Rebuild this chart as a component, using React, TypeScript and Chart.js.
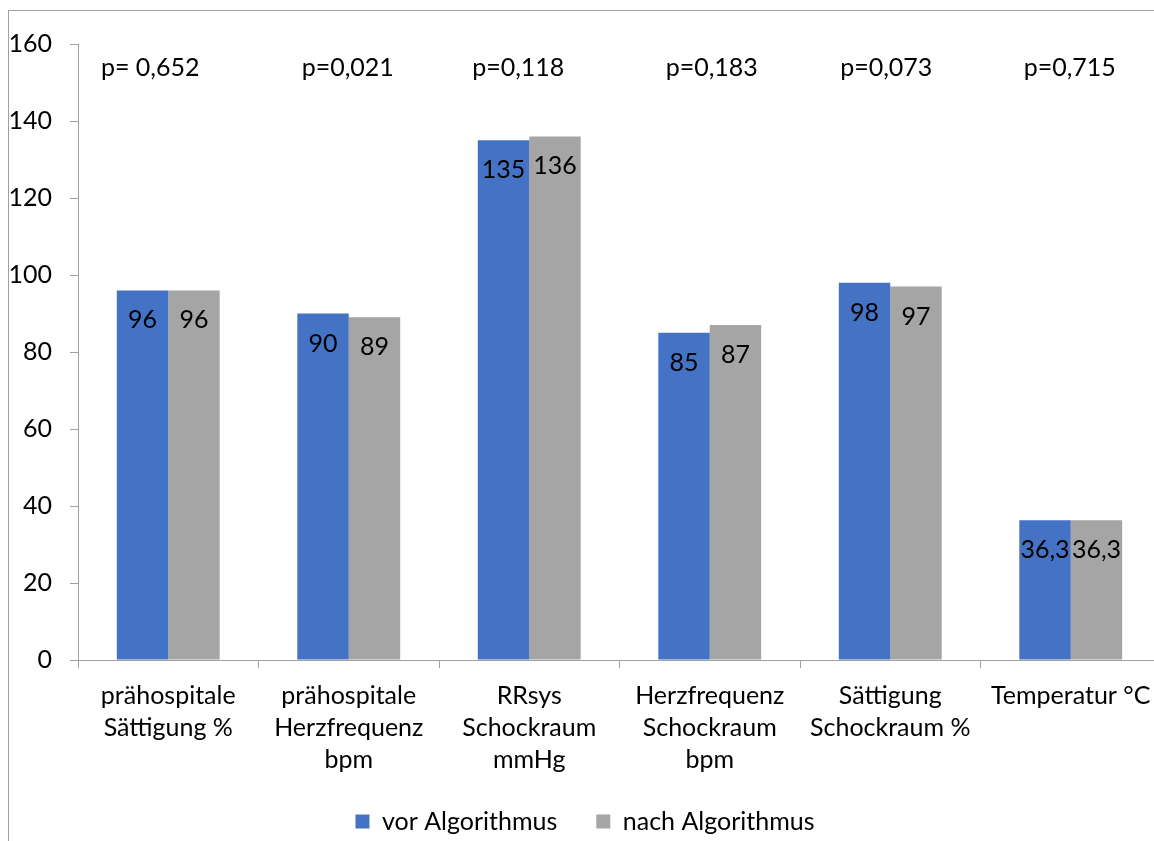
import React, { useEffect, useRef } from "react";
import { Chart, registerables } from "chart.js";

Chart.register(...registerables);

const categories: string[][] = [
  ["prähospitale", "Sättigung %"],
  ["prähospitale", "Herzfrequenz", "bpm"],
  ["RRsys", "Schockraum", "mmHg"],
  ["Herzfrequenz", "Schockraum", "bpm"],
  ["Sättigung", "Schockraum %"],
  ["Temperatur °C"],
];
const vorValues = [96, 90, 135, 85, 98, 36.3];
const nachValues = [96, 89, 136, 87, 97, 36.3];
const pValues = ["p= 0,652", "p=0,021", "p=0,118", "p=0,183", "p=0,073", "p=0,715"];
const seriesNames = ["vor Algorithmus", "nach Algorithmus"];
const yMin = 0;
const yMax = 160;
const yStep = 20;

const FONT = "Lato, 'DejaVu Sans', sans-serif";
const AXIS = "#a0a0a0";

const labelPlugin = {
  id: "valueLabels",
  afterLayout(chart: any) {
    const lg = chart.legend;
    if (lg) {
      lg.top -= 18;
      lg.bottom -= 18;
    }
  },
  afterDatasetsDraw(chart: any) {
    const ctx = chart.ctx;
    ctx.save();
    ctx.font = `25px ${FONT}`;
    ctx.fillStyle = "#000";
    ctx.textAlign = "center";
    ctx.textBaseline = "middle";
    chart.data.datasets.forEach((ds: any, di: number) => {
      const meta = chart.getDatasetMeta(di);
      meta.data.forEach((bar: any, i: number) => {
        const v = ds.data[i];
        ctx.fillText(String(v).replace(".", ","), bar.x, bar.y + 30);
      });
    });
    const xs = chart.scales.x;
    const shifts = [-18, -1, -11, 2, -4, -1];
    pValues.forEach((p, i) => {
      ctx.fillText(p, xs.getPixelForValue(i) + shifts[i], chart.chartArea.top + 24);
    });
    ctx.restore();
  },
};

export default function App() {
  const ref = useRef<HTMLCanvasElement | null>(null);
  useEffect(() => {
    if (!ref.current) return;
    const chart = new Chart(ref.current, {
      type: "bar",
      data: {
        labels: categories,
        datasets: [
          {
            label: seriesNames[0],
            data: vorValues,
            backgroundColor: "#4472C4",
            categoryPercentage: 0.57,
            barPercentage: 1.0,
          },
          {
            label: seriesNames[1],
            data: nachValues,
            backgroundColor: "#A5A5A5",
            categoryPercentage: 0.57,
            barPercentage: 1.0,
          },
        ],
      },
      options: {
        responsive: false,
        animation: false,
        layout: { padding: { top: 33, right: 12, left: 0, bottom: 0 } },
        plugins: {
          tooltip: { enabled: false },
          title: { display: false },
          legend: {
            position: "bottom",
            labels: {
              boxWidth: 14,
              boxHeight: 14,
              padding: 39,
              color: "#000",
              font: { family: FONT, size: 25 },
            },
          },
        },
        scales: {
          x: {
            grid: {
              display: true,
              drawOnChartArea: false,
              drawTicks: true,
              tickLength: 8,
              color: AXIS,
              offset: true,
            },
            border: { display: true, color: AXIS, width: 1 },
            ticks: {
              color: "#000",
              font: { family: FONT, size: 25, lineHeight: 1.28 },
              padding: 12,
              maxRotation: 0,
              autoSkip: false,
            },
          },
          y: {
            min: yMin,
            max: yMax,
            grid: {
              display: true,
              drawOnChartArea: false,
              drawTicks: true,
              tickLength: 8,
              color: AXIS,
            },
            border: { display: true, color: AXIS, width: 1 },
            ticks: {
              stepSize: yStep,
              color: "#000",
              font: { family: FONT, size: 25 },
              padding: 18,
            },
            afterFit: (s: any) => {
              s.width = 69;
            },
          },
        },
      },
      plugins: [labelPlugin],
    } as any);
    return () => chart.destroy();
  }, []);

  return (
    <div
      style={{
        position: "fixed",
        left: 0,
        top: 0,
        width: 1154,
        height: 841,
        overflow: "hidden",
        background: "#fff",
      }}
    >
      <div
        style={{
          position: "absolute",
          left: 8,
          top: 10,
          width: 1170,
          height: 870,
          border: `1px solid ${AXIS}`,
        }}
      >
        <canvas ref={ref} width={1164} height={851} style={{ display: "block" }} />
      </div>
    </div>
  );
}
